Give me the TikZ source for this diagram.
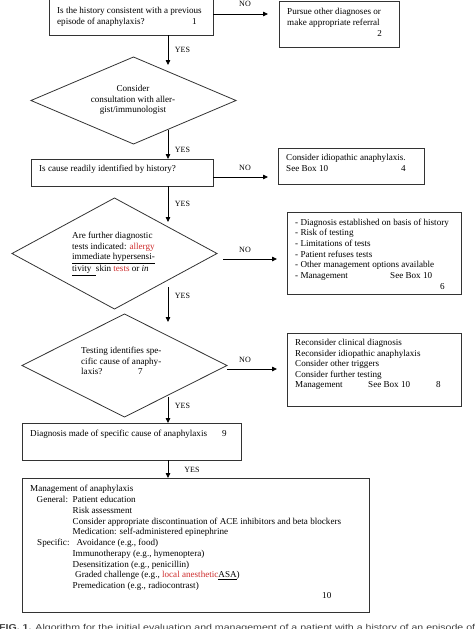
\documentclass[tikz,border=0pt]{standalone}
\usepackage{fontspec}
\setmainfont{Liberation Serif}
\newfontfamily\capfont{Liberation Sans}
\usetikzlibrary{shapes.geometric,arrows.meta}
\definecolor{hl}{RGB}{205,45,45}
\begin{document}
\begin{tikzpicture}[x=1pt,y=-1pt,
  box/.style={draw=black!80, line width=0.9pt, inner sep=0pt, outer sep=0pt},
  dia/.style={diamond, draw=black!80, line width=0.8pt, inner sep=0pt, outer sep=0pt},
  arr/.style={draw=black, line width=0.8pt, -{Triangle[length=5pt,width=4.5pt]}},
  txt/.style={anchor=base west, inner sep=0pt, font=\fontsize{9.1}{10.7}\selectfont},
  ctxt/.style={anchor=base, inner sep=0pt, font=\fontsize{9.1}{10.7}\selectfont},
  lbl/.style={anchor=center, inner sep=0pt, font=\fontsize{8}{9}\selectfont}]
\useasboundingbox (0,0) rectangle (474,629);

% ---------- shapes ----------
\node[box, minimum width=164pt, minimum height=39pt] (b1) at (131,15.5) {};
\node[box, minimum width=120pt, minimum height=46pt] (b2) at (339,24) {};
\node[dia, minimum width=205pt, minimum height=87pt] (d1) at (133.5,100.5) {};
\node[box, minimum width=182pt, minimum height=27pt] (b3) at (122,172.5) {};
\node[box, minimum width=146pt, minimum height=36pt] (b4) at (351,166) {};
\node[dia, minimum width=205pt, minimum height=111pt] (d2) at (114.5,253.5) {};
\node[box, minimum width=174pt, minimum height=82pt] (b6) at (374,253) {};
\node[dia, minimum width=205pt, minimum height=103pt] (d3) at (124.5,365.5) {};
\node[box, minimum width=174pt, minimum height=73pt] (b8) at (374,369.5) {};
\node[box, minimum width=219pt, minimum height=37pt] (b9) at (131.5,441.5) {};
\node[box, minimum width=347pt, minimum height=134pt] (b10) at (195.5,545) {};

% ---------- texts ----------
\node[txt] (t1) at (57,13.5) {\begin{tabular}[t]{@{}l@{}}Is the history consistent with a previous\\episode of anaphylaxis?\end{tabular}};
\node[txt] (n1) at (192,24.5) {1};
\node[txt] (t2) at (287,14.5) {\begin{tabular}[t]{@{}l@{}}Pursue other diagnoses or\\make appropriate referral\end{tabular}};
\node[txt,anchor=base east] (n2) at (382,36) {2};
\node[ctxt] (t3) at (133,91.5) {\begin{tabular}[t]{@{}c@{}}Consider\\consultation with aller-\\gist/immunologist\end{tabular}};
\node[txt] (t4) at (39,171.5) {Is cause readily identified by history?};
\node[txt] (t5) at (286,160.5) {\begin{tabular}[t]{@{}l@{}}Consider idiopathic anaphylaxis.\\See Box 10\end{tabular}};
\node[txt] (n4) at (401,171.5) {4};
\node[txt] (t6) at (72,238.5) {\begin{tabular}[t]{@{}l@{}}Are further diagnostic\\tests indicated: \textcolor{hl}{allergy}\\\underline{immediate hypersensi-}\\\underline{tivity\ \ }skin \textcolor{hl}{tests} or \textit{in}\end{tabular}};
\node[txt] (t7) at (295,225) {\begin{tabular}[t]{@{}l@{}}- Diagnosis established on basis of history\\- Risk of testing\\- Limitations of tests\\- Patient refuses tests\\- Other management options available\\- Management\end{tabular}};
\node[txt] (s7) at (390,278.5) {See Box 10};
\node[txt] (n6) at (440,289.2) {6};
\node[txt] (t8) at (81,353.5) {\begin{tabular}[t]{@{}l@{}}Testing identifies spe-\\cific cause of anaphy-\\laxis?\end{tabular}};
\node[txt] (n7) at (138,374.9) {7};
\node[txt, font=\fontsize{9.1}{10.5}\selectfont] (t9) at (295,345.8) {\begin{tabular}[t]{@{}l@{}}Reconsider clinical diagnosis\\Reconsider idiopathic anaphylaxis\\Consider other triggers\\Consider further testing\\Management\end{tabular}};
\node[txt] (s9) at (368,387.8) {See Box 10};
\node[txt] (n8) at (436,387.8) {8};
\node[txt] (t10) at (30,436.5) {Diagnosis made of specific cause of anaphylaxis};
\node[txt] (n9) at (222,436.5) {9};
\node[txt] (t11) at (30,491.5) {Management of anaphylaxis};
\node[txt] (g1) at (36.5,502.5) {General:};
\node[txt] (g2) at (37,545.8) {Specific:};
\node[txt, font=\fontsize{9.1}{10.78}\selectfont] (t12) at (72.5,502.5) {\begin{tabular}[t]{@{}l@{}}Patient education\\Risk assessment\\Consider appropriate discontinuation of ACE inhibitors and beta blockers\\Medication: self-administered epinephrine\\\hspace{4pt}Avoidance (e.g., food)\\Immunotherapy (e.g., hymenoptera)\\Desensitization (e.g., penicillin)\\\hspace{2.5pt}Graded challenge (e.g., \textcolor{hl}{local anesthetic}\underline{ASA})\\Premedication (e.g., radiocontrast)\end{tabular}};
\node[txt] (n10) at (322,598.5) {10};

% ---------- connectors ----------
\coordinate (e1) at (168,65);
\coordinate (e3) at (168,222);
\coordinate (s4) at (168,287);
\coordinate (e4) at (168,322);
\coordinate (s5) at (168,397);
\coordinate (s3) at (168,130);
\coordinate (no1) at (268,14);
\coordinate (no2) at (268,177);
\coordinate (no3s) at (223,259);
\coordinate (no3) at (277,259);
\coordinate (no4) at (277,369);

\draw[arr] (b1.south -| e1) -- (e1);
\draw[arr] (s3) -- (b3.north -| s3);
\draw[arr] (b3.south -| e3) -- (e3);
\draw[arr] (s4) -- (e4);
\draw[arr] (s5) -- (b9.north -| s5);
\draw[arr] (b9.south -| s5) -- (b10.north -| s5);

\draw[arr] (b1.east |- no1) -- (no1);
\draw[arr] (b3.east |- no2) -- (no2);
\draw[arr] (no3s) -- (no3);
\draw[arr] (d3.east |- no4) -- (no4);

% ---------- labels ----------
\node[lbl] (y1) at (182.5,50) {YES};
\node[lbl] (y2) at (182.5,150) {YES};
\node[lbl] (y3) at (182.5,204) {YES};
\node[lbl] (y4) at (182.5,296) {YES};
\node[lbl] (y5) at (182.5,406) {YES};
\node[lbl] (y6) at (192,470) {YES};
\node[lbl] (o1) at (245,4) {NO};
\node[lbl] (o2) at (245,167.5) {NO};
\node[lbl] (o3) at (245,250) {NO};
\node[lbl] (o4) at (245,360) {NO};

% ---------- caption (cut off by the page, as in the reference) ----------
\node[anchor=base west, inner sep=0pt, text=black!75] (cap) at (-1,630.5) {\resizebox{476pt}{6.2pt}{\capfont\textbf{FIG. 1.} Algorithm for the initial evaluation and management of a patient with a history of an episode of}};
\end{tikzpicture}
\end{document}
